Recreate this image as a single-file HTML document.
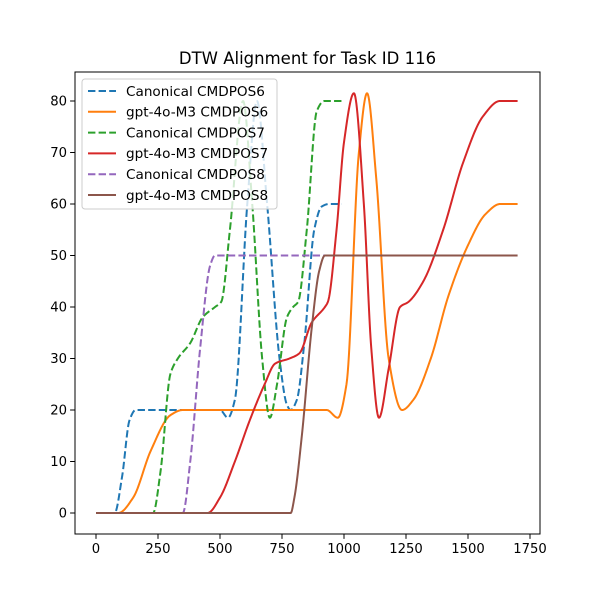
<!DOCTYPE html>
<html><head><meta charset="utf-8"><style>
body{margin:0;background:#fff}
svg{display:block;font-family:"DejaVu Sans","Liberation Sans",sans-serif}
</style></head><body>
<svg id="chart" width="600" height="600" viewBox="0 0 600 600">
<rect width="600" height="600" fill="#fff"/>
<text x="307.5" y="64" text-anchor="middle" font-size="16.5">DTW Alignment for Task ID 116</text>
<g id="plot"></g>
<g id="axes"></g>
<g id="legend"></g>
</svg>
<script>
const xTicks=[0,250,500,750,1000,1250,1500,1750];
const yTicks=[0,10,20,30,40,50,60,70,80];
const seriesNames=["Canonical CMDPOS6","gpt-4o-M3 CMDPOS6","Canonical CMDPOS7","gpt-4o-M3 CMDPOS7","Canonical CMDPOS8","gpt-4o-M3 CMDPOS8"];
const canon6X=[0,75,105,135,160,500,532,560,610,649,690,740,770,785,810,840,880,910,940,990];
const canon6Y=[0,0,7,18,20,20,18.5,22,60,80,60,30,21,20,22,33,55,59.5,60,60];
const gpt6X=[0,90,150,220,300,350,930,975,1010,1060,1093,1130,1180,1234,1280,1350,1420,1500,1570,1630,1700];
const gpt6Y=[0,0,3,12,19,20,20,18.5,25,70,81.5,65,30,20,22,30,42,52,58,60,60];
const canon7X=[0,230,260,300,330,380,430,480,505,540,593,630,670,701,730,770,795,815,850,890,920,990];
const canon7Y=[0,0,8,27,30,33,38,40,41,55,80,60,30,18.5,25,38,40,41,55,78,80,80];
const gpt7X=[0,450,500,560,620,680,722,780,820,870,923,935,970,1000,1040,1080,1110,1141,1180,1226,1260,1320,1400,1480,1560,1629,1700];
const gpt7Y=[0,0,3,10,18,25,29,30,31,37,40,41,55,72,81.5,60,32,18.5,28,40,41,45,55,68,77,80,80];
const canon8X=[0,350,380,420,460,480,990];
const canon8Y=[0,0,10,32,48,50,50];
const gpt8X=[0,785,800,830,870,900,923,1700];
const gpt8Y=[0,0,3,15,36,47,50,50];
const colors=["#1f77b4","#ff7f0e","#2ca02c","#d62728","#9467bd","#8c564b"];
const dashed=[true,false,true,false,true,false];
const allX=[canon6X,gpt6X,canon7X,gpt7X,canon8X,gpt8X];
const allY=[canon6Y,gpt6Y,canon7Y,gpt7Y,canon8Y,gpt8Y];

const L=75,R=540,T=72,B=534;
const sx=v=>96+v*(434/1750);
const sy=v=>513-v*(412/80);
const NS="http://www.w3.org/2000/svg";
function mk(tag,attrs,parent){const e=document.createElementNS(NS,tag);for(const k in attrs)e.setAttribute(k,attrs[k]);parent.appendChild(e);return e;}
function mono(xs,ys){
  const n=xs.length,d=[],m=new Array(n).fill(0);
  for(let i=0;i<n-1;i++)d.push((ys[i+1]-ys[i])/(xs[i+1]-xs[i]));
  m[0]=d[0];m[n-1]=d[n-2];
  for(let i=1;i<n-1;i++){if(d[i-1]*d[i]<=0)m[i]=0;else{const w1=2*(xs[i+1]-xs[i])+(xs[i]-xs[i-1]),w2=(xs[i+1]-xs[i])+2*(xs[i]-xs[i-1]);m[i]=(w1+w2)/(w1/d[i-1]+w2/d[i]);}}
  const pts=[];
  for(let i=0;i<n-1;i++){const h=xs[i+1]-xs[i];for(let k=0;k<20;k++){const t=k/20,t2=t*t,t3=t2*t;
    const y=(2*t3-3*t2+1)*ys[i]+(t3-2*t2+t)*h*m[i]+(-2*t3+3*t2)*ys[i+1]+(t3-t2)*h*m[i+1];
    pts.push([xs[i]+t*h,y]);}}
  pts.push([xs[n-1],ys[n-1]]);return pts;
}
const plot=document.getElementById('plot');
for(let s=0;s<6;s++){
  const pts=mono(allX[s],allY[s]);
  const p=mk('path',{d:'M'+pts.map(q=>sx(q[0]).toFixed(2)+','+sy(q[1]).toFixed(2)).join('L'),fill:'none',stroke:colors[s],'stroke-width':2,'stroke-linejoin':'round','stroke-dasharray':dashed[s]?'7.4,3.2':'none'},plot);
  
  
}
const axes=document.getElementById('axes');
const fr=mk('rect',{x:L,y:T,width:R-L,height:B-T,fill:'none',stroke:'#000','stroke-width':1},axes);


xTicks.forEach(v=>{const x=sx(v);mk('line',{x1:x,x2:x,y1:B,y2:B+4.9,stroke:'#000','stroke-width':1},axes);
  const t=mk('text',{x:x,y:B+19,'text-anchor':'middle','font-size':13.2},axes);t.textContent=v;
  
  });
yTicks.forEach(v=>{const y=sy(v);mk('line',{x1:L-4.9,x2:L,y1:y,y2:y,stroke:'#000','stroke-width':1},axes);
  const t=mk('text',{x:L-8,y:y+4.7,'text-anchor':'end','font-size':13.2},axes);t.textContent=v;
  
  });
const lg=document.getElementById('legend');
mk('rect',{x:82,y:79,width:195,height:130,rx:3,fill:'#fff','fill-opacity':0.8,stroke:'#ccc','stroke-width':1},lg);
seriesNames.forEach((n,i)=>{const y=91+i*20.8;
  const ln=mk('line',{x1:88,x2:116,y1:y,y2:y,stroke:colors[i],'stroke-width':2,'stroke-dasharray':dashed[i]?'7.4,3.2':'none'},lg);
  
  
  const t=mk('text',{x:126,y:y+4.8,'font-size':13.6},lg);t.textContent=n;
  
  });
</script>
</body></html>
